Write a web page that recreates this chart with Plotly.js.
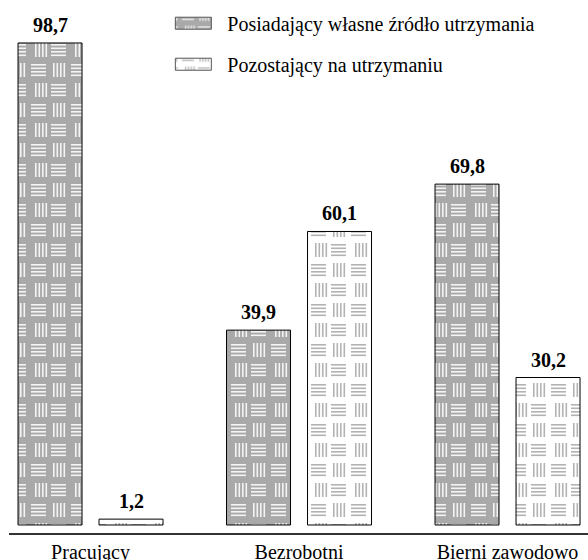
<!DOCTYPE html>
<html><head><meta charset="utf-8">
<script src="https://cdn.plot.ly/plotly-3.0.1.min.js"></script>
<style>
body{margin:0;background:#fff}
#c{width:588px;height:560px}
</style>
</head><body><div id="c"></div>
<script>
const categories = ["Pracujący", "Bezrobotni", "Bierni zawodowo"];
const seriesNames = ["Posiadający własne źródło utrzymania", "Pozostający na utrzymaniu"];
const ownIncome = [98.7, 39.9, 69.8];
const dependent = [1.2, 60.1, 30.2];

(function () {
const SERIF = "Liberation Serif";
const FS = 20;
const GREY = '#a9a9a9';
function trace(name, vals, bg, fg, group) {
  return {
    type: 'bar', name: name, x: categories, y: vals, legendgroup: group,
    marker: {color: bg, line: {color: '#000', width: 1},
      pattern: {shape: '+', bgcolor: bg, fgcolor: fg, size: 6, solidity: 0.25}},
    hoverinfo: 'none'
  };
}
const traces = [
  trace(seriesNames[0], ownIncome, GREY, '#ffffff', 'a'),
  trace(seriesNames[1], dependent, '#ffffff', '#b0b0b0', 'b')
];
const anns = [];
[ownIncome, dependent].forEach((vals, s) => {
  vals.forEach((v, i) => anns.push({
    x: categories[i], y: v, xref: 'x', yref: 'y', xshift: s === 0 ? -40.5 : 40.5, yshift: 5,
    yanchor: 'bottom', showarrow: false, text: '<b>' + v.toFixed(1).replace('.', ',') + '</b>',
    font: {family: SERIF, size: FS, color: '#000'}
  }));
});
const lay = {
  width: 588, height: 560,
  margin: {l: 9, r: 0, t: 0, b: 27},
  paper_bgcolor: '#fff', plot_bgcolor: '#fff',
  barmode: 'group', bargap: 0.223, bargroupgap: 0.21,
  annotations: anns,
  xaxis: {range: [-0.391, 2.386], showline: true, linecolor: '#333', linewidth: 1.5,
    ticks: '', ticklabelstandoff: 0, tickfont: {family: SERIF, size: FS, color: '#000'}, showgrid: false, zeroline: false},
  yaxis: {range: [-1.64, 107.5], visible: false, showgrid: false, zeroline: false},
  showlegend: true,
  legend: {x: 0.289, xanchor: 'left', y: 0.993, yanchor: 'top', traceorder: 'grouped',
    tracegroupgap: 12, font: {family: SERIF, size: FS, color: '#000'}, bgcolor: 'rgba(0,0,0,0)'}
};

function basketweave(gd) {
  const NS = 'http://www.w3.org/2000/svg';
  gd.querySelectorAll('pattern').forEach(p => {
    const r = p.querySelector('rect');
    const bgStr = r ? ((r.getAttribute('style') || '') + ' ' + (r.getAttribute('fill') || '')) : '';
    const grey = /169|a9a9a9/i.test(bgStr);
    const bg = grey ? GREY : '#ffffff';
    const fg = grey ? '#f4f4f4' : '#b3b3b3';
    while (p.firstChild) p.removeChild(p.firstChild);
    p.setAttribute('width', 40); p.setAttribute('height', 40);
    p.setAttribute('patternUnits', 'userSpaceOnUse');
    const add = (x, y, w, h) => {
      const e = document.createElementNS(NS, 'rect');
      e.setAttribute('x', x); e.setAttribute('y', y); e.setAttribute('width', w); e.setAttribute('height', h);
      e.setAttribute('fill', fg); p.appendChild(e);
    };
    const b = document.createElementNS(NS, 'rect');
    b.setAttribute('width', 40); b.setAttribute('height', 40); b.setAttribute('fill', bg); p.appendChild(b);
    const t = 1.6;
    [4, 7.5, 11, 14.5].forEach(k => {
      add(2, k, 15, t);
      add(20 + 2 + k, 3, t, 14);
      add(2 + k - 2, 23, t, 14);
      add(22, 20 + k, 15, t);
    });
  });
  gd.querySelectorAll('.legend [clip-path]').forEach(e => e.removeAttribute('clip-path'));
  gd.querySelectorAll('.legend .legendpoints path').forEach(pa => {
    pa.setAttribute('d', 'M15,6H-21V-6H15Z');
    pa.style.strokeWidth = '1px';
    pa.style.stroke = '#555';
  });
  gd.querySelectorAll('.legend text.legendtext').forEach(tx => {
    const x0 = parseFloat(tx.getAttribute('x') || '0');
    tx.setAttribute('x', x0 + 11);
  });
}
Plotly.newPlot('c', traces, lay, {displayModeBar: false, staticPlot: true}).then(basketweave);
})();
</script></body></html>
